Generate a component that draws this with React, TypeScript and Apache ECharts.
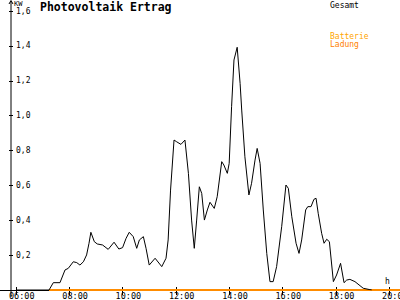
import React, { useEffect, useRef } from "react";
import * as echarts from "echarts";

// Gesamt (total PV output), time in decimal hours, value in kW
const gesamtTime = [
  6.0, 7.24, 7.4, 7.65, 7.84, 7.96, 8.15, 8.28, 8.4, 8.53, 8.65, 8.74, 8.81, 8.94, 9.05, 9.25, 9.46, 9.68,
  9.86, 10.0, 10.13, 10.25, 10.4, 10.53, 10.63, 10.78, 10.88, 11.0, 11.22, 11.47, 11.63, 11.71, 11.8, 11.93,
  12.03, 12.19, 12.34, 12.47, 12.59, 12.69, 12.78, 12.88, 12.97, 13.07, 13.18, 13.28, 13.44, 13.55, 13.72,
  13.8, 13.93, 14.0, 14.09, 14.18, 14.3, 14.41, 14.47, 14.59, 14.74, 14.84, 14.97, 15.05, 15.16, 15.28, 15.41,
  15.53, 15.65, 15.78, 15.97, 16.13, 16.22, 16.35, 16.51, 16.62, 16.72, 16.87, 16.95, 17.07, 17.18, 17.26,
  17.34, 17.47, 17.56, 17.66, 17.76, 17.91, 18.03, 18.18, 18.31, 18.41, 18.53, 18.72, 19.03, 19.28, 19.35,
];
const gesamtKW = [
  0, 0, 0.042, 0.042, 0.115, 0.124, 0.162, 0.157, 0.143, 0.162, 0.201, 0.268, 0.331, 0.277, 0.264, 0.258,
  0.233, 0.274, 0.235, 0.243, 0.296, 0.331, 0.306, 0.239, 0.287, 0.306, 0.239, 0.143, 0.182, 0.134, 0.182,
  0.287, 0.573, 0.86, 0.85, 0.835, 0.86, 0.669, 0.401, 0.239, 0.401, 0.592, 0.554, 0.401, 0.459, 0.503,
  0.468, 0.535, 0.736, 0.717, 0.669, 0.726, 1.051, 1.319, 1.392, 1.185, 1.032, 0.764, 0.545, 0.612, 0.745,
  0.812, 0.726, 0.459, 0.21, 0.048, 0.048, 0.134, 0.363, 0.602, 0.583, 0.42, 0.268, 0.21, 0.287, 0.459,
  0.478, 0.478, 0.52, 0.526, 0.44, 0.325, 0.268, 0.291, 0.277, 0.048, 0.086, 0.153, 0.042, 0.057, 0.061,
  0.048, 0.01, 0.002, 0,
];

// Batterie Ladung (battery charge)
const batterieTime = [7.24, 20.41];
const batterieKW = [0, 0];

const hourTicks = [6, 8, 10, 12, 14, 16, 18, 20];

const X_MIN = 5.4;
const X_MAX = 20.41;

const MONO = "'DejaVu Sans Mono', monospace";

export default function App() {
  const ref = useRef<HTMLDivElement>(null);

  useEffect(() => {
    if (!ref.current) return;
    const chart = echarts.init(ref.current, null, { renderer: "svg" });

    const gesamt = gesamtTime.map((t, i) => [t, gesamtKW[i]]);
    const batterie = batterieTime.map((t, i) => [t, batterieKW[i]]);

    const fmtHour = (v: number) => (v < 10 ? "0" : "") + Math.round(v) + ":00";

    const baseX = {
      type: "value" as const,
      min: X_MIN,
      max: X_MAX,
      position: "bottom" as const,
      splitLine: { show: false },
    };
    const baseY = {
      type: "value" as const,
      min: 0,
      max: 1.6,
      interval: 0.2,
      position: "left" as const,
      offset: -11,
      splitLine: { show: false },
      axisLine: { show: false },
    };

    chart.setOption({
      animation: false,
      backgroundColor: "#ffffff",
      grid: { left: 0, width: 400, top: 11, bottom: 10, containLabel: false },
      xAxis: [
        {
          ...baseX,
          axisLine: { show: true, lineStyle: { color: "#000", width: 1 } },
          axisTick: { show: true, length: 5, customValues: hourTicks, lineStyle: { color: "#000" } },
          axisLabel: {
            show: true,
            customValues: hourTicks,
            formatter: (v: number) => fmtHour(v),
            color: "#000",
            fontFamily: MONO,
            fontSize: 8.5,
            align: "left",
            margin: 1,
            padding: [0, 0, 0, -7],
          },
        },
        {
          ...baseX,
          axisLine: { show: false },
          axisTick: { show: true, inside: true, length: 3, customValues: hourTicks, lineStyle: { color: "#000" } },
          axisLabel: { show: false },
        },
      ],
      yAxis: [
        {
          ...baseY,
          axisTick: { show: true, inside: true, length: 2, lineStyle: { color: "#000" } },
          axisLabel: {
            show: true,
            inside: true,
            margin: 5,
            color: "#000",
            fontFamily: MONO,
            fontSize: 8,
            formatter: (v: number) => (v === 0 ? "" : v.toFixed(1).replace(".", ",")),
          },
        },
        {
          ...baseY,
          axisTick: { show: true, inside: false, length: 2, lineStyle: { color: "#000" } },
          axisLabel: { show: false },
        },
      ],
      series: [
        {
          name: "Batterie Ladung",
          type: "line",
          data: batterie,
          symbol: "none",
          lineStyle: { color: "#ff8c00", width: 2 },
          z: 2,
        },
        {
          name: "Gesamt",
          type: "line",
          data: gesamt,
          symbol: "none",
          lineStyle: { color: "#000000", width: 1 },
          z: 3,
        },
      ],
      graphic: [
        { type: "line", shape: { x1: 11, y1: 1, x2: 11, y2: 297 }, style: { stroke: "#000", lineWidth: 1 }, z: 10 },
        {
          type: "polyline",
          shape: { points: [[9, 4], [11, 0.5], [13, 4]] },
          style: { stroke: "#000", lineWidth: 1, fill: "none" },
          z: 10,
        },
        {
          type: "text",
          left: 14,
          top: 0,
          style: { text: "KW", font: `7px ${MONO}`, fill: "#000" },
        },
        {
          type: "text",
          left: 40,
          top: 1,
          style: { text: "Photovoltaik Ertrag", font: `bold 11.5px ${MONO}`, fill: "#000" },
        },
        {
          type: "text",
          left: 330,
          top: 1,
          style: { text: "Gesamt", font: `8px ${MONO}`, fill: "#000" },
        },
        {
          type: "text",
          left: 330,
          top: 32,
          style: { text: "Batterie", font: `8px ${MONO}`, fill: "#ffa500" },
        },
        {
          type: "text",
          left: 330,
          top: 40,
          style: { text: "Ladung", font: `8px ${MONO}`, fill: "#ff8000" },
        },
        {
          type: "text",
          left: 385,
          top: 277,
          style: { text: "h", font: `8px ${MONO}`, fill: "#000" },
        },
      ],
    });

    return () => chart.dispose();
  }, []);

  return (
    <div
      style={{ position: "fixed", left: 0, top: 0, width: 400, height: 300, overflow: "hidden", background: "#fff" }}
    >
      <div ref={ref} style={{ width: 440, height: 300 }} />
    </div>
  );
}
